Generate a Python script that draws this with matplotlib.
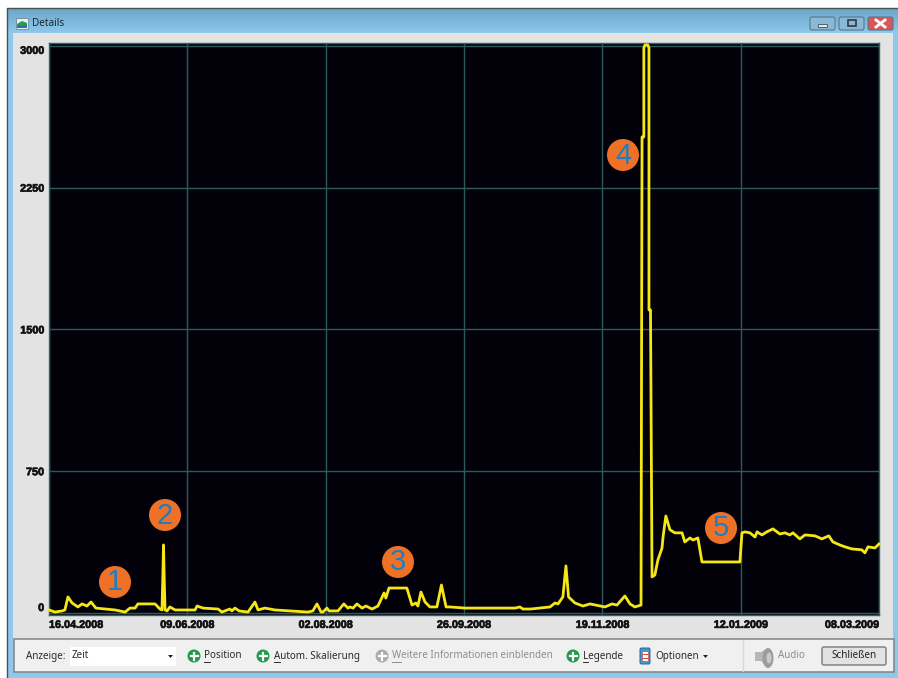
import numpy as np
import matplotlib
matplotlib.use('Agg')
import matplotlib.pyplot as plt
import matplotlib.patheffects as pe
from matplotlib.patches import Rectangle, FancyBboxPatch, Circle, Polygon, Ellipse

# Days since 16.04.2008 and measured value
days = [0, 2.3, 5.1, 6.2, 7.4, 9, 11.3, 12.9, 14.8, 16.4, 18.3, 21.9, 25.8, 29.7, 31.6, 33.6, 34.7, 41.4, 43.3,
        44.1, 44.4, 44.7, 45.0, 45.3, 46.1, 47.2, 49.2,
        56.2, 57, 57.8, 60.1, 66, 67.5, 70.6, 71.4, 72.6, 74.2, 77.7, 80.4, 81.6, 84.3, 88.2, 94.1, 101.1, 103,
        104.6, 106.2, 106.9, 108.5, 109.3, 112.8, 115.1, 116.7,
        117.5, 118.7, 120.2, 122.2,
        123.7, 126.1, 128.4, 130.8, 131.5, 132.7, 139.7, 141.7, 143.2, 144, 145.2, 146.8, 148.7, 151.4, 153.2, 155,
        156.5, 162.4, 175, 182, 183.8, 185, 188, 195.6, 197.5, 198.7, 200.6, 201.2, 201.8, 202.3, 202.8, 205.3, 208.4,
        211.2, 215.1, 217, 219.8, 221.7, 224.8, 226.8, 228.7, 231.1, 231.5, 232.2, 232.2, 232.7, 233.7, 234.2, 234.2,
        234.8, 235.4, 236.5, 237.7, 239.3, 239.7, 240.8, 242.4, 244.3, 247.1, 248.2, 250.2, 251.4, 253.3, 254.1, 254.9,
        269.7, 270.5, 271.7, 273.6, 275.6, 276.4, 278.3, 280.2, 282.6, 285.3, 287.3, 289.2, 290.4, 293.1, 295.1, 299,
        301.7, 304.4, 306, 308.7, 310.7, 313.4, 317.3, 318.5, 319.7, 322.4, 324]
values = [16, 5, 11, 16, 85, 53, 32, 48, 37, 58, 26, 21, 16, 5, 26, 26, 48, 48, 21,
          16, 170, 360, 170, 16, 11, 32, 16,
          16, 16, 37, 26, 21, 5, 21, 11, 26, 11, 5, 58, 16, 26, 16, 11, 5, 11,
          48, 5, 5, 26, 11, 11, 48, 26,
          32, 26, 48, 26,
          37, 21, 37, 106, 79, 132, 132, 42, 53, 37, 111, 58, 32, 32, 148, 32,
          32, 26, 26, 26, 32, 21, 21, 32, 53, 48, 85, 170, 249, 170, 85, 53, 37,
          48, 37, 32, 48, 42, 90, 48, 32, 42, 2518, 2518, 2990, 3005, 3005, 2990, 1603,
          1603, 191, 201, 281, 344, 402, 513, 440, 424, 424, 376, 397, 386, 397, 334, 270,
          270, 424, 429, 424, 402, 429, 413, 429, 445, 418, 424, 413, 424, 392, 413, 408,
          392, 408, 376, 360, 350, 339, 334, 318, 350, 344, 365]

x_ticks = [0, 54, 108, 162, 216, 270, 324]
x_labels = ['16.04.2008', '09.06.2008', '02.08.2008', '26.09.2008', '19.11.2008', '12.01.2009', '08.03.2009']
y_ticks = [0, 750, 1500, 2250, 3000]

W, H = 898, 678
fig = plt.figure(figsize=(W / 100, H / 100), dpi=100, facecolor='white')

# Window around the chart, in pixel coordinates
back = fig.add_axes([0, 0, 1, 1], zorder=0)
back.axis('off')

grad = np.linspace(0, 1, 670).reshape(-1, 1, 1)
col_a = np.array([0.42, 0.65, 0.78]).reshape(1, 1, 3)
col_b = np.array([0.56, 0.79, 0.93]).reshape(1, 1, 3)
back.imshow(col_a + (col_b - col_a) * np.clip(grad * 27, 0, 1), extent=[7, W, H, 8], aspect='auto', zorder=1)
back.set_xlim(0, W)
back.set_ylim(H, 0)
back.plot([7, 7, W], [H, 8, 8], color='#4a4f54', lw=1, zorder=2)

back.add_patch(Rectangle((13, 33), 880, 606, fc='#e3e3e3', ec='none', zorder=2))
back.add_patch(Rectangle((14, 639), 880, 33, fc='#f0f0f0', ec='#808284', lw=1.1, zorder=3))
back.add_patch(Rectangle((70, 647), 106, 19, fc='white', ec='none', zorder=4))
back.plot([743, 743], [640, 671], color='#d8d8d8', lw=1, zorder=4)

# Title icon and title
back.add_patch(Rectangle((16, 18), 12, 11, fc='#e8eef0', ec='#5d7f8c', lw=0.5, zorder=4))
back.add_patch(Polygon([(17, 28), (17, 24), (22, 21), (27, 23), (27, 28)], fc='#2f9a46', ec='none', zorder=5))
back.add_patch(Polygon([(17, 28), (17, 26), (27, 25), (27, 28)], fc='#2570c0', ec='none', zorder=6))
back.text(32, 23.5, 'Details', fontsize=7.2, family='Noto Sans', va='center', color='#1c2a33', zorder=5)

# Window buttons
for bx, bw, fc in [(809, 27, '#8db8d4'), (838, 27, '#8db8d4'), (867, 27, '#d8575a')]:
    back.add_patch(FancyBboxPatch((bx + 1, 17), bw - 2, 13, boxstyle='round,pad=0,rounding_size=2',
                                  fc=fc, ec='#55778f', lw=0.8, zorder=4))
back.add_patch(Rectangle((818, 24), 9, 3, fc='#dfe9f0', ec='#3d4f5c', lw=0.6, zorder=5))
back.add_patch(Rectangle((848, 20), 8, 6, fc='none', ec='#2c3a44', lw=1.2, zorder=5))
back.plot([876, 885], [20, 27], color='white', lw=2, zorder=5)
back.plot([876, 885], [27, 20], color='white', lw=2, zorder=5)

# Chart
ax = fig.add_axes([49 / W, 1 - 615 / H, 830 / W, 572 / H], zorder=1)
ax.set_facecolor('#02010a')
ax.plot(days, values, color='#f5e714', lw=2.0, solid_joinstyle='round', clip_on=False, zorder=3)
ax.set_xlim(0, 324)
ax.set_ylim(-10.6, 3015)
ax.set_xticks(x_ticks)
ax.set_xticklabels(x_labels)
ax.set_yticks(y_ticks)
ax.grid(True, color='#2b5a5d', lw=1)
ax.set_axisbelow(True)
ax.tick_params(length=0, labelsize=7.8, labelcolor='#111111', pad=3.5)
for lab in ax.get_xticklabels() + ax.get_yticklabels():
    lab.set_family('Liberation Sans')
    lab.set_fontweight('bold')
    lab.set_path_effects([pe.withStroke(linewidth=0.5, foreground='#222222')])
ax.get_xticklabels()[0].set_ha('left')
ax.get_xticklabels()[-1].set_ha('right')
ax.get_yticklabels()[0].set_va('bottom')
ax.get_yticklabels()[-1].set_va('top')
for sp in ax.spines.values():
    sp.set_color('#2f6366')
    sp.set_linewidth(1)

# Top layer for callouts and toolbar
top = fig.add_axes([0, 0, 1, 1], zorder=2)
top.set_xlim(0, W)
top.set_ylim(H, 0)
top.axis('off')

callouts = [('1', 115, 582), ('2', 165, 515), ('3', 398, 562), ('4', 623, 155), ('5', 721, 528)]
for num, cx, cy in callouts:
    top.add_patch(Circle((cx, cy), 16, fc='#ee7127', ec='none'))
    top.text(cx, cy + 0.5, num, fontsize=21, family='Liberation Sans', color='#1d7ec2', ha='center', va='center')

def bar_text(x, s, color='#2a2a2a', under=None):
    top.text(x, 656, s, fontsize=7.1, family='Noto Sans', color=color, va='center')
    if under:
        top.plot([x, x + under], [662, 662], color=color, lw=0.7)

def plus_icon(x, col='#1f9a4b'):
    top.add_patch(Circle((x, 656), 6.5, fc=col, ec='none'))
    top.plot([x - 3.5, x + 3.5], [656, 656], color='white', lw=1.6)
    top.plot([x, x], [652.5, 659.5], color='white', lw=1.6)

bar_text(26, 'Anzeige:')
bar_text(72, 'Zeit')
top.add_patch(Polygon([(168, 655), (173, 655), (170.5, 658)], fc='#222222', ec='none'))
plus_icon(194)
bar_text(204, 'Position', under=6)
plus_icon(263)
bar_text(274, 'Autom. Skalierung', under=6)
plus_icon(382, '#a9adad')
bar_text(392, 'Weitere Informationen einblenden', color='#8b8d8f', under=9)
plus_icon(573)
bar_text(583, 'Legende', under=5)

top.add_patch(FancyBboxPatch((640, 648), 10, 16, boxstyle='round,pad=0,rounding_size=1.5', fc='#3d9bd6', ec='#27628f', lw=0.7))
top.add_patch(Rectangle((642, 651), 6, 10, fc='white', ec='#d04a3a', lw=0.5))
top.plot([643, 647], [654, 654], color='#d04a3a', lw=0.7)
top.plot([643, 647], [658, 658], color='#d04a3a', lw=0.7)
bar_text(655, 'Optionen')
top.add_patch(Polygon([(703, 655), (708, 655), (705.5, 658)], fc='#222222', ec='none'))

# Speaker and close button
top.add_patch(Polygon([(755, 652), (761, 652), (768, 648), (768, 668), (761, 661), (755, 661)], fc='#b4b7b7', ec='none'))
top.add_patch(Ellipse((768, 658), 11, 20, fc='#9a9d9d', ec='none'))
top.add_patch(Ellipse((769, 658), 5, 11, fc='#c9cbcb', ec='none'))
bar_text(778, 'Audio', color='#8b8d8f')
top.add_patch(FancyBboxPatch((822, 647), 64, 18, boxstyle='round,pad=0,rounding_size=2', fc='#e2e2e2', ec='#777a7c', lw=1))
top.text(854, 656, 'Schließen', fontsize=7.1, family='Noto Sans', color='#222222', ha='center', va='center')

fig.savefig('out.png', dpi=100, facecolor='white')
